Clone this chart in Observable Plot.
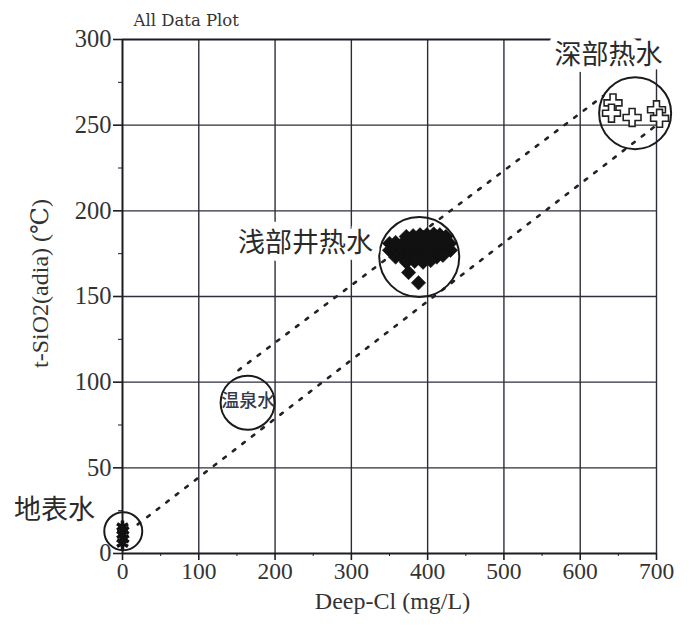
<!DOCTYPE html>
<html>
<head>
<meta charset="utf-8">
<script src="https://cdn.jsdelivr.net/npm/d3@7"></script>
<script src="https://cdn.jsdelivr.net/npm/@observablehq/plot@0.6"></script>
<style>
  body { margin: 0; background: #fff; }
  #chart svg { display: block; }
</style>
</head>
<body>
<div id="chart"></div>
<script>
// ---- tick values ----
const xTicks = [0, 100, 200, 300, 400, 500, 600, 700];
const yTicks = [0, 50, 100, 150, 200, 250, 300];
const xMinor = [50, 150, 250, 350, 450, 550, 650];
const yMinor = [25, 75, 125, 175, 225, 275];

// ---- texts ----
const titleText = "All Data Plot";
const xLabel = "Deep-Cl (mg/L)";
const yLabel = "t-SiO2(adia) (℃)";

// ---- surface water (地表水) ----
const surfaceX = [0, 1, 0, 1, 0];
const surfaceY = [6, 8.5, 11, 13.5, 15.5];

// ---- shallow geothermal well water (浅部井热水) ----
const shallowX = [
  372, 381, 390, 399, 408, 416, 424,
  350, 358, 367, 376, 385, 394, 403, 412, 421, 429,
  350, 359, 368, 377, 386, 395, 404, 413, 422, 430,
  358, 367, 376, 385, 394, 403, 412, 420,
  372, 383, 394, 404,
  375, 388
];
const shallowY = [
  185, 185.5, 186, 186, 186.5, 186, 185,
  181, 181.5, 181, 181, 181.5, 181, 181, 181.5, 181, 181,
  177, 177, 177.5, 177, 177, 177.5, 177, 177, 177.5, 177,
  173, 173, 173.5, 173, 173, 173.5, 173, 174,
  170, 170.5, 170, 171,
  164, 158
];

// ---- deep geothermal water (深部热水) ----
const deepX = [643, 641, 668, 700, 704];
const deepY = [263, 257, 254.5, 259, 254];

// ---- group circles ----
const groupNames = ["地表水", "温泉水", "浅部井热水", "深部热水"];
const groupX = [1, 164, 389, 672];
const groupY = [13, 88, 173, 257];

// ---- group labels ----
const labelNames = ["地表水", "温泉水", "浅部井热水", "深部热水"];
const labelX = [-89, 165, 240, 637];
const labelY = [25, 89, 181, 290.7];

// ---- dotted trend lines ----
const upperLineX = [152, 630];
const upperLineY = [107, 267];
const lowerLineX = [20, 700];
const lowerLineY = [17, 250];

// ---- build tables ----
const zip = (xs, ys, extra = {}) => xs.map((x, i) => ({x, y: ys[i], ...extra}));
const surface = zip(surfaceX, surfaceY);
const shallow = zip(shallowX, shallowY);
const deep = zip(deepX, deepY);
const groupRadius = {"地表水": 19, "温泉水": 27, "浅部井热水": 40, "深部热水": 36};
const groups = groupNames.map((name, i) => ({name, x: groupX[i], y: groupY[i], r: groupRadius[name]}));
const labels = labelNames.map((name, i) => ({name, x: labelX[i], y: labelY[i]}));
const bigLabels = labels.filter(d => d.name !== "温泉水");
const smallLabels = labels.filter(d => d.name === "温泉水");
const upperLine = zip(upperLineX, upperLineY);
const lowerLine = zip(lowerLineX, lowerLineY);

const lineColor = "#2e2e3a";
const serif = "Liberation Serif, DejaVu Serif, serif";
const cjk = "Noto Sans CJK SC, Noto Sans, sans-serif";

const chart = Plot.plot({
  width: 689,
  height: 630,
  marginLeft: 122,
  marginRight: 33,
  marginTop: 39,
  marginBottom: 77,
  style: {fontFamily: serif, color: "#222", background: "#fff", overflow: "visible"},
  x: {domain: [0, 700], axis: null},
  y: {domain: [0, 300], axis: null},
  r: {type: "identity"},
  marks: [
    // grid
    Plot.ruleX(xTicks.slice(1), {y1: 0, y2: 300, stroke: lineColor, strokeWidth: 1.4}),
    Plot.ruleY(yTicks.slice(1, -1), {x1: 0, x2: 700, stroke: lineColor, strokeWidth: 1.4}),
    Plot.ruleY([300], {x1: 0, x2: 700, stroke: "#1c1c24", strokeWidth: 2.2}),
    // axis lines
    Plot.ruleX([0], {y1: 0, y2: 300, stroke: "#1c1c24", strokeWidth: 2}),
    Plot.ruleY([0], {x1: 0, x2: 700, stroke: "#1c1c24", strokeWidth: 2}),
    // axes
    Plot.axisX({ticks: xTicks, tickSize: 7, tickPadding: 2, fontSize: 23.5, fontFamily: serif, label: null, stroke: "#1c1c24", strokeWidth: 1.6, fill: "#333"}),
    Plot.axisX({ticks: xMinor, tickSize: 3, text: null, label: null, stroke: "#1c1c24"}),
    Plot.axisY({ticks: yTicks, tickSize: 9, tickPadding: 2, fontSize: 24.5, fontFamily: serif, label: null, stroke: "#1c1c24", strokeWidth: 1.6, fill: "#333"}),
    Plot.axisY({ticks: yMinor, tickSize: 4, text: null, label: null, stroke: "#1c1c24"}),
    // dotted trend lines
    Plot.line(upperLine, {x: "x", y: "y", stroke: "#222", strokeWidth: 2.6, strokeDasharray: "3,9"}),
    Plot.line(lowerLine, {x: "x", y: "y", stroke: "#222", strokeWidth: 2.6, strokeDasharray: "3,9"}),
    // group circles
    Plot.dot(groups, {x: "x", y: "y", r: "r", stroke: "#1a1a1a", strokeWidth: 2, fill: "none"}),
    // data points
    Plot.dot(surface, {x: "x", y: "y", symbol: "asterisk", r: 6, stroke: "#111", strokeWidth: 3.5}),
    Plot.dot(shallow, {x: "x", y: "y", symbol: "diamond2", r: 6.5, fill: "#111", stroke: "#111", strokeWidth: 0.5}),
    Plot.dot(deep, {x: "x", y: "y", symbol: "cross", r: 7.5, fill: "#fff", stroke: "#222", strokeWidth: 1.6}),
    // group labels
    Plot.text(bigLabels, {x: "x", y: "y", text: "name", fontSize: 27, fontFamily: cjk, fill: "#2a2a2a",
      stroke: "#fff", strokeWidth: 14, strokeLinejoin: "round", paintOrder: "stroke"}),
    Plot.text(smallLabels, {x: "x", y: "y", text: "name", fontSize: 18, fontWeight: 500, fontFamily: cjk, fill: "#333a4a"}),
    // title and axis labels
    Plot.text([titleText], {frameAnchor: "top-left", dx: 11, dy: -25, textAnchor: "start", fontSize: 16.5, fontFamily: "DejaVu Serif, serif", fill: "#333"}),
    Plot.text([xLabel], {frameAnchor: "bottom", dx: 3, dy: 55, textAnchor: "middle", fontSize: 24, fontFamily: serif, fill: "#333"}),
    Plot.text([yLabel], {frameAnchor: "left", rotate: -90, dx: -82, dy: -13, textAnchor: "middle", fontSize: 24, fontFamily: serif, fill: "#333"})
  ]
});
document.getElementById("chart").append(chart);
</script>
</body>
</html>
